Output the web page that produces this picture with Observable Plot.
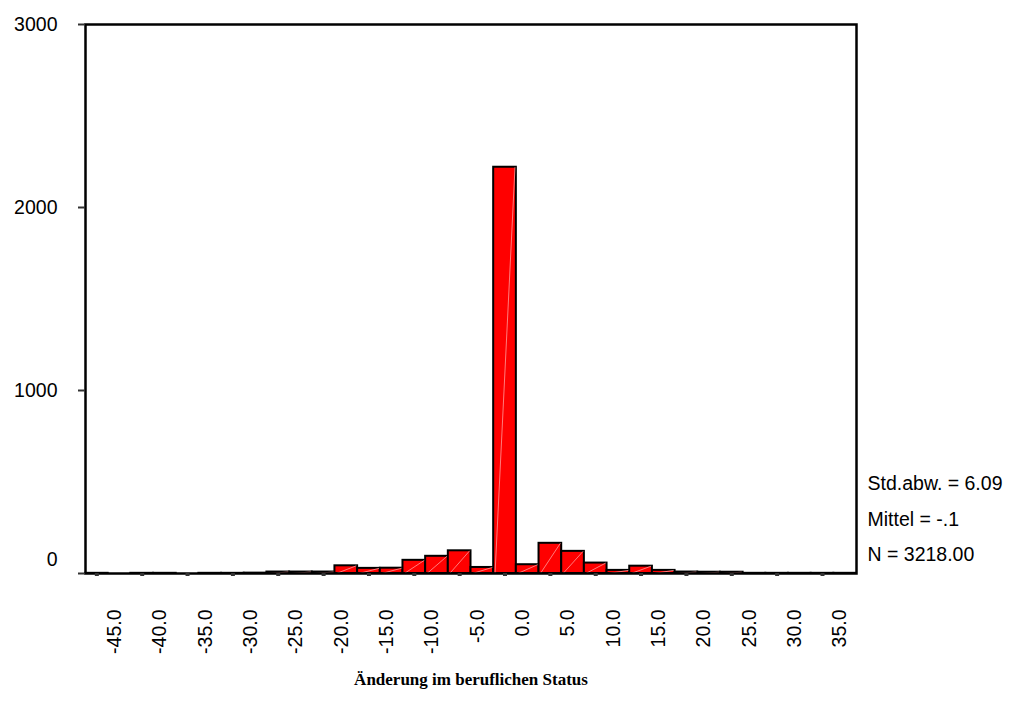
<!DOCTYPE html>
<html>
<head>
<meta charset="utf-8">
<script src="https://cdn.jsdelivr.net/npm/d3@7"></script>
<script src="https://cdn.jsdelivr.net/npm/@observablehq/plot@0.6"></script>
<style>
  html, body { margin: 0; padding: 0; background: #ffffff; }
  #chart svg { display: block; }
</style>
</head>
<body>
<div id="chart"></div>
<script>
// Histogram bins (centres) and counts
const binWidth = 2.5;
const binCenters = [-45, -42.5, -40, -37.5, -35, -32.5, -30, -27.5, -25, -22.5, -20,
  -17.5, -15, -12.5, -10, -7.5, -5, -2.5, 0, 2.5, 5, 7.5, 10, 12.5, 15, 17.5,
  20, 22.5, 25, 27.5, 30, 32.5, 35, 37.5];
const counts = [1, 0, 1, 1, 0, 1, 1, 2, 8, 8, 8,
  42, 28, 29, 72, 94, 124, 33, 2220, 48, 165, 121, 57, 17, 40, 17,
  8, 7, 7, 1, 1, 1, 1, 1];

// Axis ticks and labels
const xTicks = [-45, -40, -35, -30, -25, -20, -15, -10, -5, 0, 5, 10, 15, 20, 25, 30, 35];
const xTickLabels = ["-45.0", "-40.0", "-35.0", "-30.0", "-25.0", "-20.0", "-15.0", "-10.0",
  "-5.0", "0.0", "5.0", "10.0", "15.0", "20.0", "25.0", "30.0", "35.0"];
const yTicks = [0, 1000, 2000, 3000];
const xTitle = "Änderung im beruflichen Status";

// Statistics box
const statNames = ["Std.abw.", "Mittel", "N"];
const statValues = ["6.09", "-.1", "3218.00"];

const bins = binCenters.map((c, i) => ({x1: c - binWidth / 2, x2: c + binWidth / 2, count: counts[i]}));
const xLabelData = xTicks.map((v, i) => ({v, label: xTickLabels[i]}));
const statText = statNames.map((n, i) => `${n} = ${statValues[i]}`).join("\n");

const sans = "'Liberation Sans', Arial, sans-serif";

const chart = Plot.plot({
  width: 1015,
  height: 704,
  marginLeft: 85,
  marginRight: 159,
  marginTop: 24,
  marginBottom: 131,
  style: {background: "#ffffff", fontFamily: sans, color: "#000"},
  x: {domain: [-46.25, 38.75], axis: null},
  y: {domain: [0, 3000], axis: null},
  marks: [
    Plot.rect(bins.filter(d => d.count > 0), {
      x1: "x1", x2: "x2", y1: d => 0, y2: "count",
      fill: "#ff0000", stroke: "#000000", strokeWidth: 2
    }),
    Plot.link(bins.filter(d => d.count > 4), {
      x1: d => d.x1 + 0.15, y1: d => 0, x2: d => d.x2 - 0.15, y2: "count",
      stroke: "#ff9a9a", strokeWidth: 0.8
    }),
    Plot.frame({stroke: "#000000", strokeWidth: 2.5}),
    // x tick marks
    Plot.axisX({ticks: xTicks, tickSize: 3, strokeWidth: 4, stroke: "#333", tickFormat: () => "", label: null}),
    // x tick labels (rotated)
    Plot.text(xLabelData, {
      x: "v", text: "label", frameAnchor: "bottom", rotate: -90, textAnchor: "end",
      dy: 36, dx: 24, fontSize: 19.5, fill: "#000"
    }),
    // y tick marks
    Plot.axisY({ticks: yTicks, tickSize: 7, strokeWidth: 2, stroke: "#333", tickFormat: () => "", label: null}),
    // y tick labels
    Plot.text(yTicks.filter(d => d > 0), {
      y: d => d, text: d => String(d), frameAnchor: "left", textAnchor: "end",
      dx: -28, fontSize: 19.5, fill: "#000"
    }),
    Plot.text(yTicks.filter(d => d === 0), {
      y: d => d, text: d => String(d), frameAnchor: "left", textAnchor: "end",
      dx: -28, dy: -14, fontSize: 19.5, fill: "#000"
    }),
    // statistics
    Plot.text([statText], {
      text: d => d, frameAnchor: "bottom-right", textAnchor: "start", lineAnchor: "middle",
      lineHeight: 1.82, dx: 11, dy: -59, fontSize: 19.5, fill: "#000"
    }),
    // axis title
    Plot.text([xTitle], {
      text: d => d, frameAnchor: "bottom", dy: 111, fontSize: 17, fontWeight: "bold",
      fontFamily: "'Liberation Serif', 'Times New Roman', serif", fill: "#000"
    })
  ]
});

document.getElementById("chart").appendChild(chart);
</script>
</body>
</html>
